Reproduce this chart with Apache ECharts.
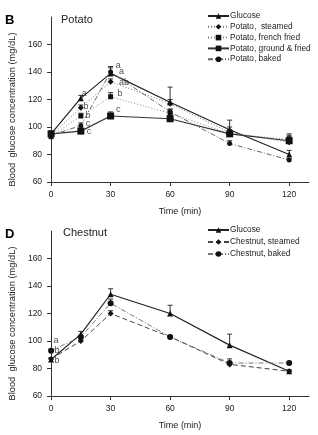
<!DOCTYPE html>
<html>
<head>
<meta charset="utf-8">
<script src="https://cdn.jsdelivr.net/npm/echarts@6/dist/echarts.min.js"></script>
<style>
  html, body { margin: 0; padding: 0; background: #fff; }
  #main { width: 318px; height: 435px; }
</style>
</head>
<body>
<div id="main"></div>
<script>
// 时间点 (min)
var times = [0, 15, 30, 60, 90, 120];
var xTicks = [0, 30, 60, 90, 120];
var yTicks = [60, 80, 100, 120, 140, 160];

// B: Potato
var potatoGlucose = [95, 121, 139, 118, 98, 80];
var potatoSteamed = [94, 114, 133, 117, 96, 89];
var potatoFrench = [93, 108, 122, 110, 95, 91];
var potatoGround = [95, 97, 108, 106, 95, 90];
var potatoBaked = [94, 101, 140, 111, 88, 76];
// 误差 (向上)
var potatoGlucoseErr = [2, 2, 5, 11, 7, 3];
var potatoSteamedErr = [2, 2, 2, 3, 4, 5];
var potatoFrenchErr = [2, 2, 3, 3, 3, 4];
var potatoGroundErr = [2, 2, 3, 2, 3, 3];
var potatoBakedErr = [1, 2, 3, 2, 2, 1];
// 字母标注 [time, value, letter]
var potatoLetters = [
  [16.7, 124.5, 'a'], [17.6, 115, 'b'], [18.6, 108.7, 'b'], [18.6, 102.6, 'c'], [19.1, 96.5, 'c'],
  [33.8, 145, 'a'], [35.5, 140, 'a'], [36.8, 132.4, 'ab'], [34.8, 124.3, 'b'], [33.8, 112.4, 'c']
];

// D: Chestnut
var chestGlucose = [86.5, 105, 134, 120, 97, 78];
var chestSteamed = [87, 100, 120, 103, 83, 78];
var chestBaked = [93, 103, 127.5, 103, 84, 84];
var chestGlucoseErr = [1, 2, 4, 6, 8, 1];
var chestSteamedErr = [1, 1, 2, 1, 1, 1];
var chestBakedErr = [1, 1, 3, 1, 3, 1];
var chestLetters = [[2.5, 100, 'a'], [3, 93.2, 'b'], [3, 85.5, 'b']];

var ink = '#222';
var font = 'Liberation Sans';

function pts(vals) {
  return times.map(function (t, i) { return [t, vals[i]]; });
}

function lineSeries(name, vals, idx, symbol, size, lineType, color, width) {
  return {
    name: name, type: 'line', xAxisIndex: idx, yAxisIndex: idx,
    data: pts(vals), symbol: symbol, symbolSize: size,
    itemStyle: { color: '#111' },
    lineStyle: { color: color, width: width, type: lineType },
    emphasis: { disabled: true }, z: 3
  };
}

// 误差线
function errSeries(vals, errs, idx) {
  var data = times.map(function (t, i) { return [t, vals[i], errs[i]]; });
  return {
    type: 'custom', xAxisIndex: idx, yAxisIndex: idx, silent: true, z: 2,
    data: data,
    renderItem: function (params, api) {
      var p0 = api.coord([api.value(0), api.value(1)]);
      var p1 = api.coord([api.value(0), api.value(1) + api.value(2)]);
      return {
        type: 'group',
        children: [
          { type: 'line', shape: { x1: p0[0], y1: p0[1], x2: p1[0], y2: p1[1] }, style: { stroke: '#333', lineWidth: 1 } },
          { type: 'line', shape: { x1: p1[0] - 2.5, y1: p1[1], x2: p1[0] + 2.5, y2: p1[1] }, style: { stroke: '#333', lineWidth: 1 } }
        ]
      };
    }
  };
}

function letterSeries(letters, idx) {
  return {
    type: 'scatter', xAxisIndex: idx, yAxisIndex: idx, silent: true,
    symbolSize: 0, data: letters,
    label: {
      show: true, position: 'inside', color: ink, fontSize: 9, fontFamily: font,
      formatter: function (p) { return p.value[2]; }
    }
  };
}

function xAxisOf(idx) {
  return {
    type: 'value', gridIndex: idx, min: 0, max: 130,
    name: 'Time (min)', nameLocation: 'middle', nameGap: 25,
    nameTextStyle: { color: ink, fontSize: 9, fontFamily: font },
    splitLine: { show: false },
    axisLine: { lineStyle: { color: '#333' } },
    axisTick: { customValues: xTicks, length: 4, lineStyle: { color: '#333' } },
    axisLabel: { customValues: xTicks, color: ink, fontSize: 8.5, fontFamily: font, margin: 8 }
  };
}

function yAxisOf(idx) {
  return {
    type: 'value', gridIndex: idx, min: 60, max: 180,
    name: 'Blood  glucose concentration (mg/dL)', nameLocation: 'middle', nameGap: 32,
    nameTextStyle: { color: ink, fontSize: 9.3, fontFamily: font, padding: [0, 20, 0, 0] },
    splitLine: { show: false },
    axisLine: { show: true, lineStyle: { color: '#333' } },
    axisTick: { show: true, customValues: yTicks, length: 4, lineStyle: { color: '#333' } },
    axisLabel: { customValues: yTicks, color: ink, fontSize: 8.5, fontFamily: font, margin: 9 }
  };
}

var legendText = { color: ink, fontSize: 8.3, fontFamily: font, lineHeight: 10, padding: [0, 0, 0, -4] };

var chart = echarts.init(document.getElementById('main'));
chart.setOption({
  backgroundColor: '#fff',
  animation: false,
  title: [
    { text: 'B', left: 5, top: 14, padding: 0, textStyle: { fontSize: 13, fontWeight: 'bold', color: '#000', fontFamily: font } },
    { text: 'Potato', left: 61, top: 14, padding: 0, textStyle: { fontSize: 11, fontWeight: 'normal', color: ink, fontFamily: font } },
    { text: 'D', left: 5, top: 228, padding: 0, textStyle: { fontSize: 13, fontWeight: 'bold', color: '#000', fontFamily: font } },
    { text: 'Chestnut', left: 63, top: 227, padding: 0, textStyle: { fontSize: 11, fontWeight: 'normal', color: ink, fontFamily: font } }
  ],
  legend: [
    {
      data: ['Glucose', 'Potato,  steamed', 'Potato, french fried', 'Potato, ground & fried', 'Potato, baked'],
      orient: 'vertical', left: 207, top: 11, padding: 0, itemWidth: 21, itemHeight: 7, itemGap: 0.8,
      textStyle: legendText
    },
    {
      data: ['Glucose', 'Chestnut, steamed', 'Chestnut, baked'],
      orient: 'vertical', left: 207, top: 225, padding: 0, itemWidth: 21, itemHeight: 7, itemGap: 2,
      textStyle: legendText
    }
  ],
  grid: [
    { left: 50, top: 17, width: 259, height: 165 },
    { left: 50, top: 231, width: 259, height: 165 }
  ],
  xAxis: [xAxisOf(0), xAxisOf(1)],
  yAxis: [yAxisOf(0), yAxisOf(1)],
  series: [
    errSeries(potatoGlucose, potatoGlucoseErr, 0),
    errSeries(potatoSteamed, potatoSteamedErr, 0),
    errSeries(potatoFrench, potatoFrenchErr, 0),
    errSeries(potatoGround, potatoGroundErr, 0),
    errSeries(potatoBaked, potatoBakedErr, 0),
    lineSeries('Glucose', potatoGlucose, 0, 'triangle', 6, 'solid', '#222', 1.2),
    lineSeries('Potato,  steamed', potatoSteamed, 0, 'diamond', 6, [1, 2], '#777', 1),
    lineSeries('Potato, french fried', potatoFrench, 0, 'rect', 5, [1, 2], '#888', 1),
    lineSeries('Potato, ground & fried', potatoGround, 0, 'rect', 7, 'solid', '#333', 1.2),
    lineSeries('Potato, baked', potatoBaked, 0, 'circle', 5, [5, 2, 1, 2], '#666', 1),
    letterSeries(potatoLetters, 0),

    errSeries(chestGlucose, chestGlucoseErr, 1),
    errSeries(chestSteamed, chestSteamedErr, 1),
    errSeries(chestBaked, chestBakedErr, 1),
    lineSeries('Glucose', chestGlucose, 1, 'triangle', 6, 'solid', '#222', 1.2),
    lineSeries('Chestnut, steamed', chestSteamed, 1, 'diamond', 6, [5, 3], '#444', 1),
    lineSeries('Chestnut, baked', chestBaked, 1, 'circle', 6, [5, 2, 1, 2], '#777', 1),
    letterSeries(chestLetters, 1)
  ]
});
</script>
</body>
</html>
